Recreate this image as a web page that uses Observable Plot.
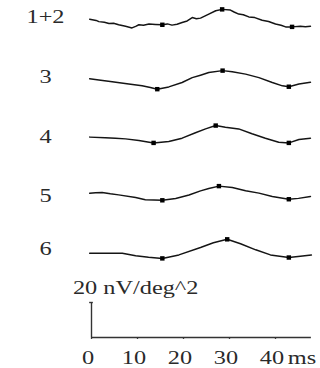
<!DOCTYPE html>
<html><head><meta charset="utf-8">
<script src="https://cdn.jsdelivr.net/npm/d3@7"></script>
<script src="https://cdn.jsdelivr.net/npm/@observablehq/plot@0.6"></script>
<style>body{margin:0;background:#fff}</style>
</head><body><div id="chart"></div>
<script>
// ---- data ----
const traceLabels = ["1+2", "3", "4", "5", "6"];
// stacking offset of each trace (nV/deg^2 above the time axis)
const traceBaselines = [181.8, 147.8, 114.5, 82.4, 48.2];

const t12 = [-0.4,1.0,1.6,2.8,3.8,4.8,5.9,7.4,8.8,9.6,10.3,11.3,12.5,13.9,15.4,16.5,17.5,18.6,19.7,20.8,21.9,22.8,23.7,25.5,27.0,28.4,30.2,31.0,32.0,33.0,34.2,35.5,37.1,38.5,40.0,41.2,42.2,43.6,45.4,46.5,47.6];
const v12 = [0.1,-0.6,-1.3,-1.7,-2.4,-2.2,-3.1,-4.0,-4.9,-4.0,-3.1,-3.4,-2.7,-2.9,-3.1,-2.6,-3.3,-2.8,-1.8,-0.9,1.0,0.4,0.7,3.0,4.9,5.7,5.3,4.2,3.0,2.6,1.4,1.0,-0.5,-1.2,-2.7,-3.4,-4.3,-4.3,-4.0,-4.2,-4.0];

const t3 = [-0.4,1.6,4.5,8.1,11.0,12.8,14.3,16.8,19.7,21.9,23.7,25.5,28.5,30.6,33.5,36.4,39.3,41.5,42.9,45.1,47.6];
const v3 = [0,-0.7,-1.7,-3.0,-4.0,-4.9,-5.9,-4.6,-2.1,0.7,2.1,3.6,4.7,4.0,2.7,0.7,-2.1,-4.0,-4.5,-3.0,-2.0];

const t4 = [-0.4,3.0,5.2,7.4,10.3,13.5,16.8,19.7,22.6,24.8,27.0,29.1,32.0,34.9,37.8,40.7,42.9,45.1,47.6];
const v4 = [0,-0.4,-0.6,-1.0,-1.9,-3.3,-2.5,-0.6,2.5,4.7,6.6,5.7,4.7,1.9,-0.6,-2.9,-3.3,-1.4,-0.6];

const t5 = [-0.4,0.9,2.3,4.1,5.9,9.6,11.7,15.4,18.3,21.2,23.7,25.5,27.7,30.6,33.5,36.4,39.3,42.9,45.0,47.6];
const v5 = [0,0.3,0.5,-0.3,-0.9,-2.4,-3.7,-4.0,-3.0,-1.0,1.4,2.7,4.1,3.3,1.4,0.1,-1.8,-3.4,-2.9,-1.8];

const t6 = [-0.4,6.7,9.6,12.4,15.4,19.0,23.7,26.5,29.5,32.4,35.7,38.9,42.9,45.4,47.8];
const v6 = [0,0,-1.5,-2.4,-3.0,-1.0,3.2,5.9,7.9,5.4,1.9,-1.0,-2.5,-1.8,-1.1];

const traceTimes = [t12, t3, t4, t5, t6];
const traceValues = [v12, v3, v4, v5, v6];
// times of the square markers on each trace
const markerTimes = [[15.4,28.4,43.6],[14.3,28.5,42.9],[13.5,27.0,42.9],[15.4,27.7,42.9],[15.4,29.5,42.9]];

const tickValues = [0, 10, 20, 30, 40];
const tickLabels = ["0", "10", "20", "30", "40"];
const timeUnit = "ms";
const axisEnd = 47.8;
const scaleBarValue = 20;
const scaleBarLabel = "20 nV/deg^2";

// ---- build tables ----
const points = [];
traceLabels.forEach((lab, i) => {
  traceTimes[i].forEach((t, j) => {
    points.push({trace: lab, t, v: traceBaselines[i] + traceValues[i][j], marker: markerTimes[i].includes(t)});
  });
});
const labelLift = [1.0, 1.1, -0.2, -1.6, 2.3]; // label vertical nudge (nV units)
const labels = traceLabels.map((lab, i) => ({lab, v: traceBaselines[i] + labelLift[i]}));
const ticks = tickValues.map((t, i) => ({t, lab: tickLabels[i]}));

const ink = "#151515";
const textInk = "#2a2a2a";
const font = "'Liberation Serif', 'Times New Roman', serif";

const chart = Plot.plot({
  width: 320,
  height: 368,
  margin: 0,
  style: {fontFamily: font, background: "#fff"},
  x: {domain: [0, 40], range: [91, 275], axis: null},
  y: {domain: [0, 20], range: [337, 302], axis: null},
  marks: [
    Plot.line(points, {x: "t", y: "v", z: "trace", stroke: ink, strokeWidth: 1.5}),
    Plot.dot(points.filter(d => d.marker), {x: "t", y: "v", symbol: "square", r: 2.5, fill: "#000", stroke: null}),
    Plot.text(labels, {x: -10, y: "v", text: "lab", fontSize: 18, fill: textInk, fontFamily: font}),
    // time axis
    Plot.ruleY([0], {x1: 0, x2: axisEnd, stroke: "#333", strokeWidth: 1.3}),
    Plot.ruleX(tickValues, {y1: 0, y2: -1.1, stroke: "#333", strokeWidth: 1.3}),
    // vertical scale bar
    Plot.ruleX([0], {y1: 0, y2: scaleBarValue, stroke: "#333", strokeWidth: 1.4}),
    Plot.ruleY([scaleBarValue], {x1: -0.4, x2: 0.4, stroke: "#333", strokeWidth: 1.4}),
    Plot.text([scaleBarLabel], {x: 9.6, y: 28.1, text: d => d, fontSize: 18, fill: textInk, fontFamily: font}),
    Plot.text(ticks, {x: "t", y: -11.8, dx: -3.5, text: "lab", fontSize: 18, fill: textInk, fontFamily: font}),
    Plot.text([timeUnit], {x: 40, y: -11.8, dx: 26.5, text: d => d, fontSize: 18, fill: textInk, fontFamily: font})
  ]
});
document.getElementById("chart").appendChild(chart);
// the reference's serif type is horizontally wide: stretch glyphs
d3.select(chart).selectAll("text").each(function () {
  const len = this.getComputedTextLength();
  if (len > 0) {
    this.setAttribute("textLength", (len * 1.35).toFixed(1));
    this.setAttribute("lengthAdjust", "spacingAndGlyphs");
  }
});
</script>
</body></html>
